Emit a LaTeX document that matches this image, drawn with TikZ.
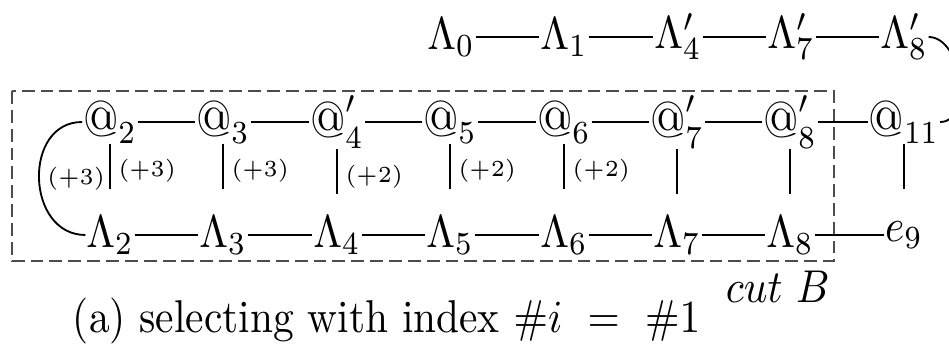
\documentclass[tikz,border=0pt]{standalone}
\usepackage{graphicx}
\newcommand\cnd[1]{\scalebox{0.9}[1]{#1}}
\newcommand\atg{\mathord{\scalebox{1.1}{$@$}}}
\begin{document}
\begin{tikzpicture}[x=0.21739pt,y=-0.21739pt,
  nd/.style={inner sep=0pt},
  con/.style={line width=0.4pt},
  tickline/.style={line width=0.4pt},
  lab/.style={inner sep=1.6pt,font=\fontsize{5.5}{6.5}\selectfont},
  cutbox/.style={dash pattern=on 2.8pt off 1.3pt, line width=0.45pt, black!70}]
\useasboundingbox (0,0) rectangle (949,344);
\draw[cutbox] (12,91) rectangle (834,261);
% top row
\node[nd] (L0)  at (451,37) {\cnd{$\Lambda_0$}};
\node[nd] (L1)  at (564,37) {\cnd{$\Lambda_1$}};
\node[nd] (L4p) at (678,37) {\cnd{$\Lambda'_4$}};
\node[nd] (L7p) at (791,37) {\cnd{$\Lambda'_7$}};
\node[nd] (L8p) at (904,37) {\cnd{$\Lambda'_8$}};
% middle row
\node[nd] (a2)  at (110,122) {\cnd{$\atg_2$}};
\node[nd] (a3)  at (223,122) {\cnd{$\atg_3$}};
\node[nd] (a4p) at (337,122) {\cnd{$\atg'_4$}};
\node[nd] (a5)  at (450,122) {\cnd{$\atg_5$}};
\node[nd] (a6)  at (564,122) {\cnd{$\atg_6$}};
\node[nd] (a7p) at (677,122) {\cnd{$\atg'_7$}};
\node[nd] (a8p) at (790,122) {\cnd{$\atg'_8$}};
\node[nd] (a11) at (904,122) {\cnd{$\atg_{11}$}};
% bottom row
\node[nd] (L2) at (110,235) {\cnd{$\Lambda_2$}};
\node[nd] (L3) at (223,235) {\cnd{$\Lambda_3$}};
\node[nd] (L4) at (337,235) {\cnd{$\Lambda_4$}};
\node[nd] (L5) at (450,235) {\cnd{$\Lambda_5$}};
\node[nd] (L6) at (564,235) {\cnd{$\Lambda_6$}};
\node[nd] (L7) at (677,235) {\cnd{$\Lambda_7$}};
\node[nd] (L8) at (790,235) {\cnd{$\Lambda_8$}};
\node[nd] (e9) at (904,235) {\cnd{$e_9$}};
% connectors
\draw[con] (L0) -- (L1) -- (L4p) -- (L7p) -- (L8p);
\draw[con] (a2) -- (a3) -- (a4p) -- (a5) -- (a6) -- (a7p) -- (a8p) -- (a11);
\draw[con] (L2) -- (L3) -- (L4) -- (L5) -- (L6) -- (L7) -- (L8) -- (e9);
\draw[con] (L8p.east) to[out=0,in=0,looseness=1] (a11.east);
\draw[con] (a2.west) to[out=180,in=180,looseness=1.35]
  node[lab,midway,right] {\cnd{$(+3)$}} (L2.west);
% ticks
\draw[tickline] (a2.south) -- ++(0,45) node[lab,pos=0.6,right] {\cnd{$(+3)$}};
\draw[tickline] (a3.south) -- ++(0,45) node[lab,pos=0.6,right] {\cnd{$(+3)$}};
\draw[tickline] (a4p.south) -- ++(0,45) node[lab,pos=0.6,right] {\cnd{$(+2)$}};
\draw[tickline] (a5.south) -- ++(0,45) node[lab,pos=0.6,right] {\cnd{$(+2)$}};
\draw[tickline] (a6.south) -- ++(0,45) node[lab,pos=0.6,right] {\cnd{$(+2)$}};
\draw[tickline] (a7p.south) -- ++(0,45);
\draw[tickline] (a8p.south) -- ++(0,45);
\draw[tickline] (a11.south) -- ++(0,45);
% texts
\node[anchor=base west,inner sep=0pt] (cut) at (725,303) {\cnd{$cut\ B$}};
\node[anchor=base west,inner sep=0pt] (cap) at (72,333) {\cnd{(a) selecting with index $\#i\ =\ \#1$}};
\end{tikzpicture}
\end{document}
